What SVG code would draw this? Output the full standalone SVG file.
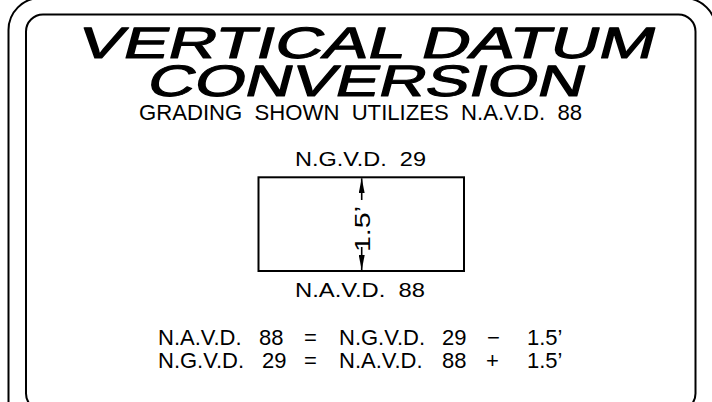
<svg xmlns="http://www.w3.org/2000/svg" width="712" height="402" viewBox="0 0 712 402">
<style>
.bd{fill:none;stroke:#000;stroke-width:2}
.t{font-family:"Liberation Sans",Arial,sans-serif;fill:#000}
.ttl{font-size:44px;stroke:#000;stroke-width:1.1;stroke-linejoin:round}
.lbl{font-size:20px}
.eq{font-size:22px}
.ln{stroke:#000;stroke-width:1.6;fill:none}
</style>
<defs>
<marker id="ah" viewBox="0 0 15 6" refX="15" refY="3" markerWidth="15" markerHeight="6" markerUnits="userSpaceOnUse" orient="auto">
<path d="M0,0 L15,3 L0,6 Z" fill="#000"/>
</marker>
</defs>
<g id="border">
<rect class="bd" x="8.5" y="-2" width="707.5" height="440" rx="32" ry="32"/>
<rect class="bd" x="26" y="14.5" width="669.5" height="396" rx="17" ry="17"/>
</g>
<g id="title">
<text class="t ttl" transform="translate(76,58) skewX(-15)" x="0" y="0" textLength="576" lengthAdjust="spacingAndGlyphs">VERTICAL DATUM</text>
<text class="t ttl" transform="translate(145,96) skewX(-15)" x="0" y="0" textLength="437" lengthAdjust="spacingAndGlyphs">CONVERSION</text>
</g>
<g id="subtitle">
<text class="t" style="font-size:22.5px" x="139" y="120" textLength="443" lengthAdjust="spacingAndGlyphs" xml:space="preserve">GRADING  SHOWN  UTILIZES  N.A.V.D.  88</text>
</g>
<g id="ngvd-label">
<text class="t lbl" x="295" y="166" textLength="131" lengthAdjust="spacingAndGlyphs" xml:space="preserve">N.G.V.D.  29</text>
</g>
<g id="datum-box">
<rect x="258.5" y="177.3" width="205.5" height="93.7" fill="none" stroke="#000" stroke-width="2"/>
</g>
<g id="navd-label">
<text class="t lbl" x="295" y="297" textLength="130" lengthAdjust="spacingAndGlyphs" xml:space="preserve">N.A.V.D.  88</text>
</g>
<g id="connectors">
<line class="ln" x1="361.7" y1="200" x2="361.7" y2="178.3" marker-end="url(#ah)"/>
<line class="ln" x1="361.7" y1="247" x2="361.7" y2="270" marker-end="url(#ah)"/>
</g>
<g id="dim-label">
<text class="t" style="font-size:22px" transform="translate(370,252) rotate(-90)" x="0" y="0" textLength="46" lengthAdjust="spacingAndGlyphs">1.5’</text>
</g>
<g id="equations">
<text class="t eq" y="345"><tspan x="158">N.A.V.D.</tspan><tspan x="259">88</tspan><tspan x="304">=</tspan><tspan x="339">N.G.V.D.</tspan><tspan x="442">29</tspan><tspan x="487">−</tspan><tspan x="527">1.5’</tspan></text>
<text class="t eq" y="368"><tspan x="158">N.G.V.D.</tspan><tspan x="262">29</tspan><tspan x="304">=</tspan><tspan x="339">N.A.V.D.</tspan><tspan x="442">88</tspan><tspan x="486">+</tspan><tspan x="527">1.5’</tspan></text>
</g>
</svg>
